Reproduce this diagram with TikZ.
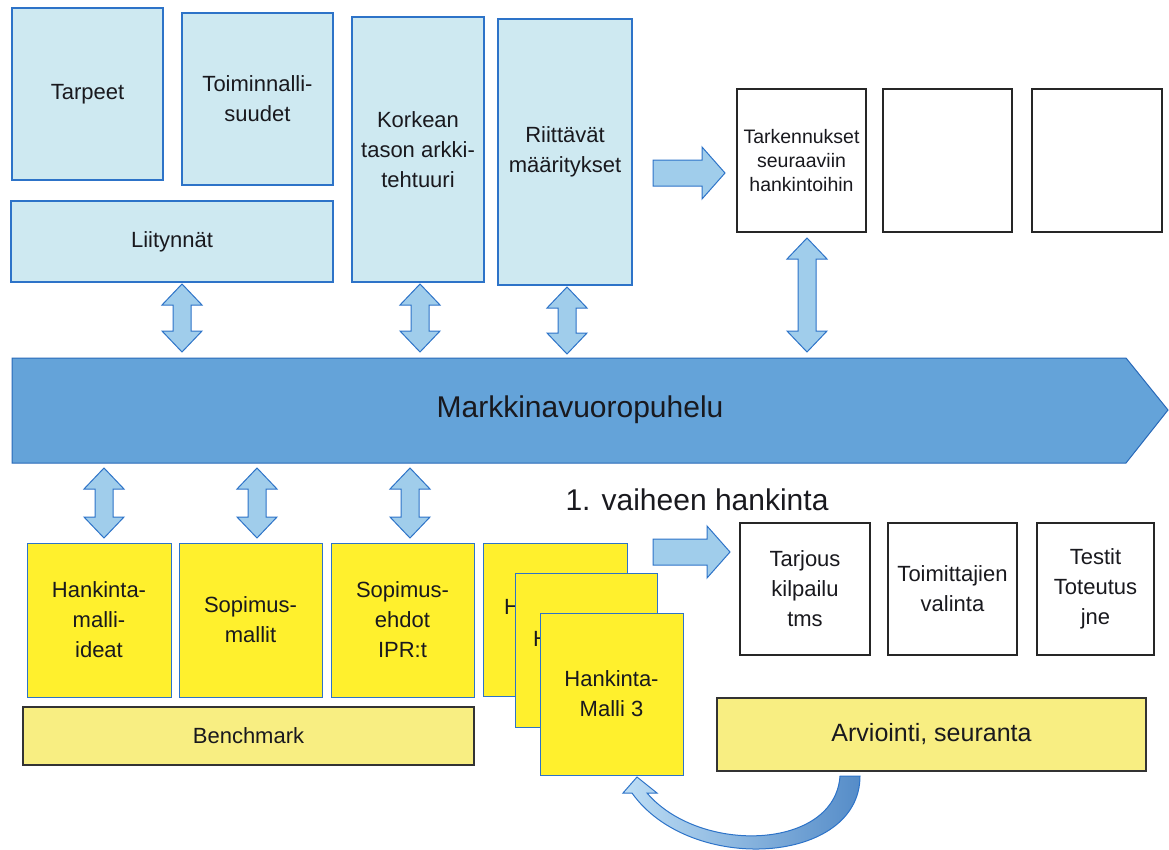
\documentclass[tikz,border=0pt]{standalone}
\usepackage{fontspec}
\setmainfont{Liberation Sans}
\definecolor{ink}{RGB}{25,25,30}
\definecolor{lineblue}{RGB}{45,115,200}
\definecolor{boxblue}{RGB}{206,233,241}
\definecolor{arrowblue}{RGB}{160,205,235}
\definecolor{bannerblue}{RGB}{100,163,217}
\definecolor{bannerline}{RGB}{40,105,185}
\definecolor{brightyellow}{RGB}{255,240,45}
\definecolor{paleyellow}{RGB}{248,238,130}
\definecolor{curvelight}{RGB}{190,222,245}
\definecolor{curvedark}{RGB}{85,140,200}

% rectangle node given by its corners: style, x1, y1, x2, y2, name
\newcommand\rectnode[6]{\node[#1, minimum width={(#4-#2)*1pt}, minimum height={(#5-#3)*1pt}] (#6) at ({(#2+#4)/2},{(#3+#5)/2})}
% vertical two-headed block arrow: x, top tip y, bottom tip y
\newcommand\vblock[3]{\draw[blockarrow] (#1-9,#2+21) -- (#1-20,#2+21) -- (#1,#2) -- (#1+20,#2+21) -- (#1+9,#2+21) -- (#1+9,#3-21) -- (#1+20,#3-21) -- (#1,#3) -- (#1-20,#3-21) -- (#1-9,#3-21) -- cycle;}
% horizontal block arrow pointing right: x start, x tip, y
\newcommand\hblock[3]{\draw[blockarrow] (#1,#3-13) -- (#2-23,#3-13) -- (#2-23,#3-26) -- (#2,#3) -- (#2-23,#3+26) -- (#2-23,#3+13) -- (#1,#3+13) -- cycle;}

\begin{document}
\begin{tikzpicture}[x=1pt,y=-1pt,
  every node/.style={inner sep=0pt, outer sep=0pt, align=center, text=ink},
  txt/.style={font=\fontsize{22}{30}\selectfont},
  bluebox/.style={txt, draw=lineblue, line width=1.3pt, fill=boxblue},
  whitebox/.style={txt, draw=black!85, line width=1.2pt, fill=white},
  yellowbox/.style={txt, draw=lineblue, line width=1pt, fill=brightyellow},
  palebox/.style={draw=black!80, line width=1.2pt, fill=paleyellow},
  blockarrow/.style={draw=lineblue, line width=1pt, fill=arrowblue, line join=miter},
]
\useasboundingbox (0,0) rectangle (1169,849);

% upper blue boxes
\rectnode{bluebox}{12}{8}{163}{180}{tarpeet} {Tarpeet};
\rectnode{bluebox}{182}{13}{333}{185}{toim} {Toiminnalli-\\suudet};
\rectnode{bluebox}{11}{201}{333}{282}{liit} {Liitynnät};
\rectnode{bluebox}{352}{17}{484}{282}{kork} {Korkean\\tason arkki-\\tehtuuri};
\rectnode{bluebox}{498}{19}{632}{285}{riit} {Riittävät\\määritykset};

% upper white boxes
\rectnode{whitebox, font=\fontsize{19.5}{24}\selectfont}{737}{89}{866}{232}{tark} {Tarkennukset\\seuraaviin\\hankintoihin};
\rectnode{whitebox}{883}{89}{1012}{232}{tyhja1} {};
\rectnode{whitebox}{1032}{89}{1162}{232}{tyhja2} {};

% market dialogue banner
\draw[line width=1pt, draw=bannerline, fill=bannerblue] (12,358) -- (1126,358) -- (1168,410) -- (1126,463) -- (12,463) -- cycle;
\node[font=\fontsize{30}{36}\selectfont] (banner) at (580,410) {Markkinavuoropuhelu};

% two-headed arrows between the boxes and the banner
\vblock{182}{284}{352}
\vblock{420}{284}{352}
\vblock{567}{287}{354}
\vblock{807}{238}{352}
\vblock{104}{468}{538}
\vblock{257}{468}{538}
\vblock{410}{468}{538}

% right-pointing arrows
\hblock{653}{725}{173}
\hblock{653}{730}{552}

% first phase procurement
\node[font=\fontsize{30}{36}\selectfont] (phase) at (697,500) {1. vaiheen hankinta};
\rectnode{whitebox}{740}{523}{870}{655}{tarjous} {Tarjous\\kilpailu\\tms};
\rectnode{whitebox}{888}{523}{1017}{655}{valinta} {Toimittajien\\valinta};
\rectnode{whitebox}{1037}{523}{1154}{655}{testit} {Testit\\Toteutus\\jne};

% lower yellow boxes
\rectnode{yellowbox}{27}{543}{171}{697}{ideat} {Hankinta-\\malli-\\ideat};
\rectnode{yellowbox}{179}{543}{322}{697}{sopmallit} {Sopimus-\\mallit};
\rectnode{yellowbox}{331}{543}{474}{697}{ehdot} {Sopimus-\\ehdot\\IPR:t};

% stacked procurement models; only the first letter of the lower cards peeks out
\rectnode{yellowbox}{483}{543}{627}{696}{malli1} {};
\begin{scope}
  \clip (484,544) rectangle (515,695);
  \node[txt, anchor=base west] (malli1txt) at (504,614) {H};
\end{scope}
\rectnode{yellowbox}{515}{573}{657}{727}{malli2} {};
\begin{scope}
  \clip (516,574) rectangle (540,726);
  \node[txt, anchor=base west] (malli2txt) at (533,646) {H};
\end{scope}
\rectnode{yellowbox}{540}{613}{683}{775}{malli3} {Hankinta-\\Malli 3};

% benchmark and evaluation bars
\rectnode{palebox, txt}{23}{707}{474}{765}{bench} {Benchmark};
\rectnode{palebox, font=\fontsize{25}{30}\selectfont}{717}{698}{1146}{771}{arvio} {Arviointi, seuranta};

% curved feedback arrow from evaluation back to the models
\path[draw=lineblue, line width=1pt, line join=miter, left color=curvelight, right color=curvedark]
  (840,776) .. controls (835,850) and (700,855) .. (647,793)
  -- (657,793) -- (637,777) -- (623,793) -- (632,793)
  .. controls (690,875) and (860,865) .. (860,776) -- cycle;
\end{tikzpicture}
\end{document}
